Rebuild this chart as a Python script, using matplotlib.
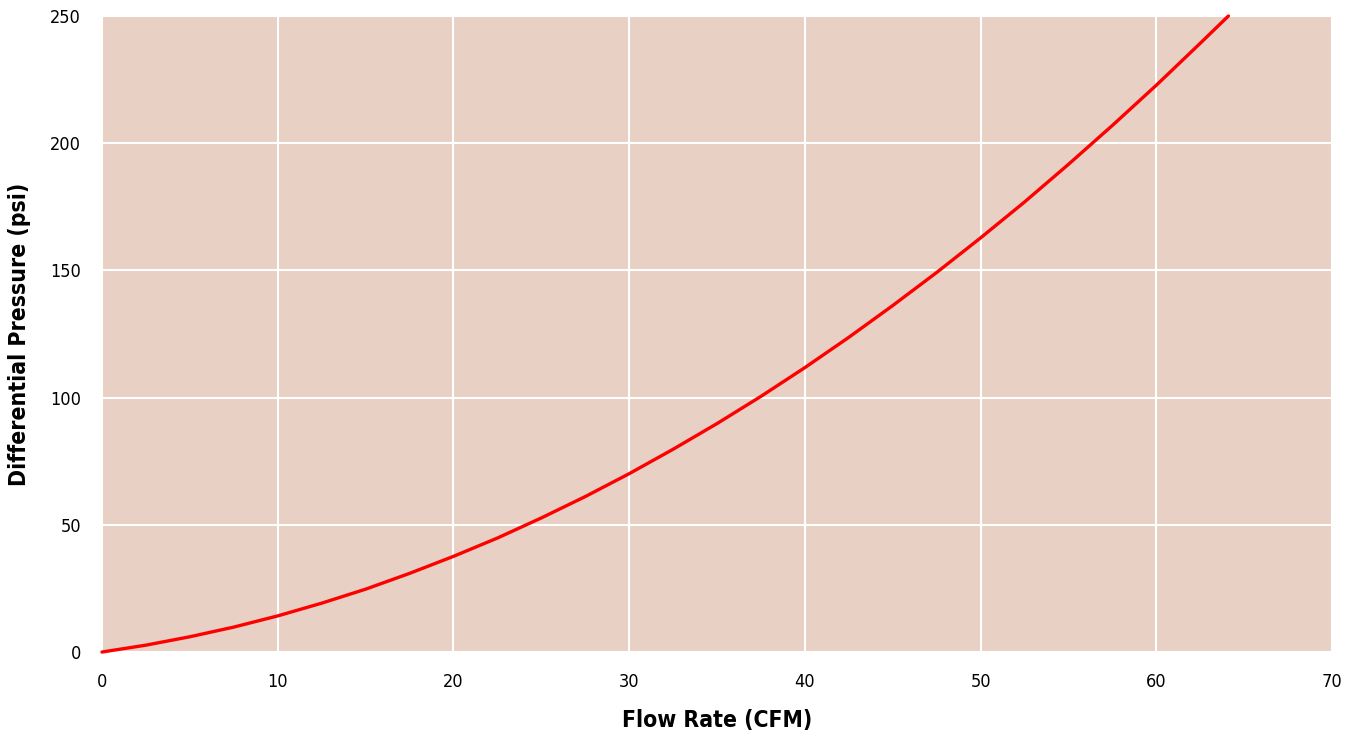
import matplotlib
matplotlib.use("Agg")
import matplotlib.pyplot as plt

plt.rcParams['font.family'] = ['DejaVu Sans']
plt.rcParams['font.stretch'] = 'condensed'

# values
flow_cfm = [0, 2.5, 5, 7.5, 10, 12.5, 15, 17.5, 20, 22.5, 25, 27.5, 30, 32.5,
            35, 37.5, 40, 42.5, 45, 47.5, 50, 52.5, 55, 57.5, 60, 62.5, 64.1]
pressure_psi = [0, 2.7, 6.0, 9.8, 14.2, 19.2, 24.7, 30.9, 37.6, 44.8, 52.7, 61.1, 70.1, 79.7,
                89.8, 100.5, 111.8, 123.7, 136.2, 149.2, 162.8, 176.9, 191.7, 207.0, 222.8, 239.3, 250]

x_ticks = [0, 10, 20, 30, 40, 50, 60, 70]
y_ticks = [0, 50, 100, 150, 200, 250]

fig = plt.figure(figsize=(13.51, 7.37), dpi=100)
ax = fig.add_axes([0.0755, 0.1153, 0.9105, 0.8630])
ax.set_facecolor('#e8d0c4')

ax.plot(flow_cfm, pressure_psi, color='#ff0000', linewidth=2.4,
        solid_capstyle='round', solid_joinstyle='round', clip_on=False, zorder=3)

ax.set_xlim(0, 70)
ax.set_ylim(0, 250)
ax.set_xticks(x_ticks)
ax.set_yticks(y_ticks)
ax.grid(True, color='white', linewidth=1.5)
ax.set_axisbelow(True)
for s in ax.spines.values():
    s.set_visible(False)
ax.tick_params(length=0, labelsize=13, pad=15)

ax.set_xlabel('Flow Rate (CFM)', fontsize=16.5, fontweight='bold', labelpad=13)
ax.set_ylabel('Differential Pressure (psi)', fontsize=16.5, fontweight='bold', labelpad=14)

fig.savefig('out.png', dpi=100)
